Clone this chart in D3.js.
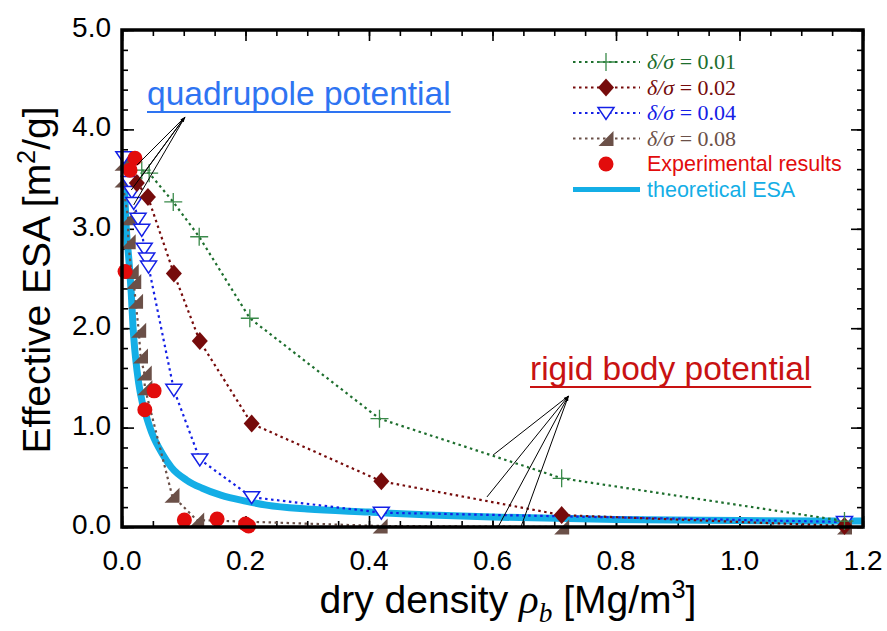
<!DOCTYPE html>
<html><head><meta charset="utf-8">
<script src="https://cdn.jsdelivr.net/npm/d3@7"></script>
<style>body{margin:0;background:#fff}svg{display:block}</style>
</head><body>
<svg id="c" width="887" height="631"></svg>
<script>
// ---- data ----
const xTicks = [0, 0.2, 0.4, 0.6, 0.8, 1.0, 1.2];
const xTickLabels = ["0.0", "0.2", "0.4", "0.6", "0.8", "1.0", "1.2"];
const yTicks = [0, 1, 2, 3, 4, 5];
const yTickLabels = ["0.0", "1.0", "2.0", "3.0", "4.0", "5.0"];

const s01x = [0.032, 0.044, 0.083, 0.125, 0.207, 0.417, 0.712, 1.17];
const s01y = [3.59, 3.56, 3.27, 2.92, 2.10, 1.09, 0.49, 0.06];

const s02x = [0.024, 0.042, 0.084, 0.126, 0.210, 0.420, 0.712, 1.17];
const s02y = [3.46, 3.32, 2.55, 1.87, 1.04, 0.46, 0.12, 0.01];

const s04x = [0.003, 0.012, 0.016, 0.019, 0.026, 0.032, 0.036, 0.040, 0.043, 0.084, 0.126, 0.210, 0.420, 1.17];
const s04y = [3.72, 3.47, 3.37, 3.26, 3.10, 2.99, 2.80, 2.70, 2.62, 1.38, 0.68, 0.30, 0.144, 0.05];

const s08x = [0.0, 0.0, 0.010, 0.010, 0.015, 0.019, 0.022, 0.027, 0.030, 0.036, 0.037, 0.081, 0.121, 0.418, 0.712, 1.17];
const s08y = [3.66, 3.49, 3.11, 2.87, 2.57, 2.47, 2.27, 1.98, 1.72, 1.55, 1.40, 0.32, 0.07, 0.01, 0.0, 0.0];

const expX = [0.021, 0.013, 0.005, 0.052, 0.037, 0.101, 0.154, 0.200, 0.205];
const expY = [3.71, 3.59, 2.57, 1.37, 1.18, 0.07, 0.08, 0.03, 0.01];

const esaX = [0.004, 0.007, 0.011, 0.015, 0.018, 0.022, 0.027, 0.033, 0.040, 0.050, 0.065, 0.080, 0.105, 0.130, 0.160, 0.200, 0.234, 0.300, 0.400, 0.500, 0.600, 0.800, 1.000, 1.200];
const esaY = [3.40, 3.00, 2.70, 2.35, 2.00, 1.70, 1.45, 1.25, 1.10, 0.92, 0.74, 0.60, 0.47, 0.39, 0.32, 0.26, 0.22, 0.18, 0.15, 0.12, 0.10, 0.075, 0.065, 0.06];

const legendLabels = ["0.01", "0.02", "0.04", "0.08"];

// annotation anchor points (data units)
const quadFrom = [0.102, 4.125];
const quadTo = [[0.024, 3.64], [0.032, 3.53], [0.015, 3.39], [0.019, 3.24]];
const rigidFrom = [0.723, 1.318];
const rigidTo = [[0.601, 0.724], [0.591, 0.302], [0.609, 0.0], [0.646, 0.0]];

// ---- setup ----
const svg = d3.select("#c");
const L = 122, T = 30, R = 863, B = 527;
const x = d3.scaleLinear().domain([0, 1.2]).range([L, R]);
const y = d3.scaleLinear().domain([0, 5]).range([B, T]);
const SANS = "'Liberation Sans', Arial, sans-serif";
const SERIF = "'Liberation Serif', 'Times New Roman', serif";

const C = {
  g: "#1d6e2d", r: "#760b0b", b: "#1420e6", br: "#6b5048",
  exp: "#e20c0c", cyan: "#14aee6", quad: "#2e74f2", rigid: "#c81212"
};

// ticks (inside) with d3 axes
const minorX = d3.range(0, 1.2001, 0.05);
const minorY = d3.range(0, 5.0001, 0.2);
function tickAxis(axisFn, scale, vals, size) {
  return axisFn(scale).tickValues(vals).tickSize(size).tickFormat("");
}
const gAx = svg.append("g");
gAx.append("g").attr("transform", `translate(0,${B})`).call(tickAxis(d3.axisTop, x, minorX, 6));
gAx.append("g").attr("transform", `translate(0,${B})`).call(tickAxis(d3.axisTop, x, xTicks, 11));
gAx.append("g").attr("transform", `translate(0,${T})`).call(tickAxis(d3.axisBottom, x, minorX, 6));
gAx.append("g").attr("transform", `translate(0,${T})`).call(tickAxis(d3.axisBottom, x, xTicks, 11));
gAx.append("g").attr("transform", `translate(${L},0)`).call(tickAxis(d3.axisRight, y, minorY, 6));
gAx.append("g").attr("transform", `translate(${L},0)`).call(tickAxis(d3.axisRight, y, yTicks, 12));
gAx.append("g").attr("transform", `translate(${R},0)`).call(tickAxis(d3.axisLeft, y, minorY, 6));
gAx.append("g").attr("transform", `translate(${R},0)`).call(tickAxis(d3.axisLeft, y, yTicks, 12));
gAx.selectAll(".domain").remove();
gAx.selectAll(".tick line").attr("stroke", "#000").attr("stroke-width", 1.6);

// tick labels
svg.append("g").selectAll("text").data(xTicks).join("text")
  .attr("x", d => x(d)).attr("y", 570).attr("text-anchor", "middle")
  .attr("font-family", SANS).attr("font-size", 28).attr("fill", "#000")
  .text((d, i) => xTickLabels[i]);
svg.append("g").selectAll("text").data(yTicks).join("text")
  .attr("x", 111).attr("y", d => y(d) + 7).attr("text-anchor", "end")
  .attr("font-family", SANS).attr("font-size", 28).attr("fill", "#000")
  .text((d, i) => yTickLabels[i]);

// axis titles
const TF = 39;
const xt = svg.append("text").attr("x", 508).attr("y", 613).attr("text-anchor", "middle")
  .attr("font-family", SANS).attr("font-size", TF).attr("fill", "#000");
xt.append("tspan").text("dry density ");
xt.append("tspan").attr("font-family", SERIF).attr("font-style", "italic").attr("font-size", TF + 2).text("ρ");
xt.append("tspan").attr("font-family", SERIF).attr("font-style", "italic").attr("font-size", TF * 0.7).attr("dy", 9).text("b");
xt.append("tspan").attr("dy", -9).text(" [Mg/m");
xt.append("tspan").attr("font-size", TF * 0.65).attr("dy", -15).text("3");
xt.append("tspan").attr("dy", 15).text("]");

const yt = svg.append("text").attr("transform", "translate(50,280) rotate(-90)").attr("text-anchor", "middle")
  .attr("font-family", SANS).attr("font-size", TF).attr("fill", "#000");
yt.append("tspan").text("Effective ESA [m");
yt.append("tspan").attr("font-size", TF * 0.65).attr("dy", -15).text("2");
yt.append("tspan").attr("dy", 15).text("/g]");

// plot content
const line = d3.line().x(d => x(d[0])).y(d => y(d[1]));
const zip = (a, b) => a.map((v, i) => [v, b[i]]);

// theoretical curve
svg.append("path").datum(zip(esaX, esaY)).attr("d", line.curve(d3.curveMonotoneX))
  .attr("fill", "none").attr("stroke", C.cyan).attr("stroke-width", 7).attr("stroke-linejoin", "round");
line.curve(d3.curveLinear);

const series = [
  { xs: s01x, ys: s01y, col: C.g, m: "plus" },
  { xs: s02x, ys: s02y, col: C.r, m: "diamond" },
  { xs: s04x, ys: s04y, col: C.b, m: "tri" },
  { xs: s08x, ys: s08y, col: C.br, m: "rtri" }
];

function drawMarker(g, m, col) {
  if (m === "plus") {
    g.append("path").attr("d", "M-9,0H9M0,-9V9").attr("stroke", "#3a8a4a").attr("stroke-width", 1.3).attr("fill", "none");
  } else if (m === "diamond") {
    g.append("path").attr("d", "M0,-9L8,0L0,9L-8,0Z").attr("fill", col);
  } else if (m === "tri") {
    g.append("path").attr("d", "M-8,-5.5L8,-5.5L0,6.5Z").attr("fill", "#fff").attr("stroke", col).attr("stroke-width", 1.5);
  } else if (m === "rtri") {
    g.append("path").attr("d", "M7.5,-7.5L7.5,7.5L-7.5,7.5Z").attr("fill", col);
  }
}

// lines
series.slice().reverse().forEach(s => {
  svg.append("path").datum(zip(s.xs, s.ys)).attr("d", line)
    .attr("fill", "none").attr("stroke", s.col).attr("stroke-width", 2.2)
    .attr("stroke-dasharray", "2.5,3.5");
});
// markers
series.slice().reverse().forEach(s => {
  svg.append("g").selectAll("g").data(zip(s.xs, s.ys)).join("g")
    .attr("transform", d => `translate(${x(d[0])},${y(d[1])})`)
    .each(function () { drawMarker(d3.select(this), s.m, s.col); });
});

// experimental
svg.append("g").selectAll("circle").data(zip(expX, expY)).join("circle")
  .attr("cx", d => x(d[0])).attr("cy", d => y(d[1])).attr("r", 7.5).attr("fill", C.exp);

// frame
svg.append("rect").attr("x", L).attr("y", T).attr("width", R - L).attr("height", B - T)
  .attr("fill", "none").attr("stroke", "#000").attr("stroke-width", 3.5);

// annotations
svg.append("defs").append("marker").attr("id", "ah").attr("viewBox", "0 0 10 10")
  .attr("refX", 10).attr("refY", 5).attr("markerWidth", 5).attr("markerHeight", 5)
  .attr("orient", "auto").append("path").attr("d", "M0,2L10,5L0,8Z").attr("fill", "#000");

function annot(from, tos) {
  tos.forEach(t => {
    svg.append("line").attr("x1", x(t[0])).attr("y1", y(t[1]))
      .attr("x2", x(from[0])).attr("y2", y(from[1]))
      .attr("stroke", "#000").attr("stroke-width", 1).attr("marker-end", "url(#ah)");
  });
}
annot(quadFrom, quadTo);
annot(rigidFrom, rigidTo);

function underlined(txt, x0, y0, col) {
  const t = svg.append("text").attr("x", x0).attr("y", y0).attr("font-family", SANS)
    .attr("font-size", 33.5).attr("fill", col).text(txt);
  const w = t.node().getComputedTextLength();
  svg.append("line").attr("x1", x0).attr("x2", x0 + w).attr("y1", y0 + 7).attr("y2", y0 + 7)
    .attr("stroke", col).attr("stroke-width", 2);
}
underlined("quadrupole potential", 147, 105, C.quad);
underlined("rigid body potential", 530, 380, C.rigid);

// legend
const lg = svg.append("g");
const rowsY = [62, 87.5, 113, 138.5, 164, 189.5];
series.forEach((s, i) => {
  const yy = rowsY[i];
  lg.append("line").attr("x1", 573).attr("x2", 640).attr("y1", yy).attr("y2", yy)
    .attr("stroke", s.col).attr("stroke-width", 2).attr("stroke-dasharray", "2.5,3.5");
  drawMarker(lg.append("g").attr("transform", `translate(606,${yy})`), s.m, s.col);
  const t = lg.append("text").attr("x", 647).attr("y", yy + 7).attr("font-family", SERIF)
    .attr("font-size", 22).attr("fill", s.col);
  t.append("tspan").attr("font-style", "italic").text("δ/σ");
  t.append("tspan").text(" = " + legendLabels[i]);
});
lg.append("circle").attr("cx", 606).attr("cy", rowsY[4]).attr("r", 7.5).attr("fill", C.exp);
lg.append("text").attr("x", 647).attr("y", rowsY[4] + 7).attr("font-family", SANS).attr("font-size", 21.5)
  .attr("fill", C.exp).text("Experimental results");
lg.append("line").attr("x1", 573).attr("x2", 640).attr("y1", rowsY[5]).attr("y2", rowsY[5])
  .attr("stroke", C.cyan).attr("stroke-width", 5);
lg.append("text").attr("x", 647).attr("y", rowsY[5] + 7).attr("font-family", SANS).attr("font-size", 21.5)
  .attr("fill", C.cyan).text("theoretical ESA");
</script>
</body></html>
